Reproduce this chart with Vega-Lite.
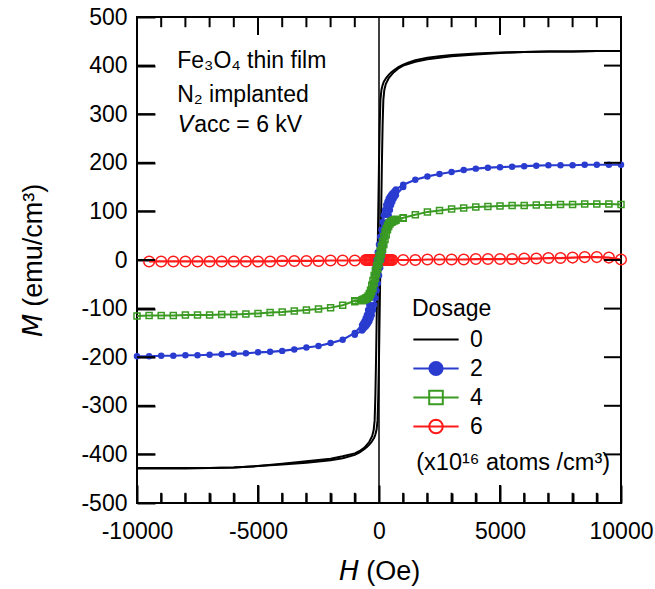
{
"$schema": "https://vega.github.io/schema/vega-lite/v6.json",
"width": 484, "height": 486,
"autosize": {"type": "none"},
"padding": {"left": 137, "top": 17, "right": 34, "bottom": 86},
"background": "white",
"datasets": {
"k0": [
{"b":"a","h":10000,"m":430},{"b":"a","h":9000,"m":430},{"b":"a","h":8000,"m":429},{"b":"a","h":7000,"m":429},{"b":"a","h":6000,"m":428},{"b":"a","h":5000,"m":427},{"b":"a","h":4000,"m":425},{"b":"a","h":3000,"m":422},{"b":"a","h":2500,"m":419},{"b":"a","h":2000,"m":416},{"b":"a","h":1500,"m":411},{"b":"a","h":1200,"m":406},{"b":"a","h":1000,"m":402},{"b":"a","h":800,"m":397},{"b":"a","h":600,"m":390},{"b":"a","h":500,"m":386},{"b":"a","h":400,"m":381},{"b":"a","h":300,"m":375},{"b":"a","h":200,"m":367},{"b":"a","h":150,"m":360},{"b":"a","h":100,"m":350},{"b":"a","h":60,"m":330},{"b":"a","h":30,"m":280},{"b":"a","h":0,"m":200},{"b":"a","h":-30,"m":100},{"b":"a","h":-60,"m":0},{"b":"a","h":-90,"m":-100},{"b":"a","h":-120,"m":-200},{"b":"a","h":-150,"m":-280},{"b":"a","h":-180,"m":-330},{"b":"a","h":-220,"m":-350},{"b":"a","h":-280,"m":-362},{"b":"a","h":-400,"m":-374},{"b":"a","h":-600,"m":-386},{"b":"a","h":-800,"m":-393},{"b":"a","h":-1000,"m":-398},{"b":"a","h":-1500,"m":-404},{"b":"a","h":-2000,"m":-409},{"b":"a","h":-3000,"m":-414},{"b":"a","h":-4000,"m":-419},{"b":"a","h":-5000,"m":-424},{"b":"a","h":-6000,"m":-427},{"b":"a","h":-7000,"m":-428},{"b":"a","h":-8000,"m":-428},{"b":"a","h":-9000,"m":-428},{"b":"a","h":-10000,"m":-428},
{"b":"b","h":-10000,"m":-429},{"b":"b","h":-9000,"m":-429},{"b":"b","h":-8000,"m":-429},{"b":"b","h":-7000,"m":-428},{"b":"b","h":-6000,"m":-427},{"b":"b","h":-5000,"m":-424},{"b":"b","h":-4000,"m":-421},{"b":"b","h":-3000,"m":-417},{"b":"b","h":-2000,"m":-412},{"b":"b","h":-1500,"m":-408},{"b":"b","h":-1000,"m":-401},{"b":"b","h":-800,"m":-396},{"b":"b","h":-600,"m":-389},{"b":"b","h":-500,"m":-385},{"b":"b","h":-400,"m":-380},{"b":"b","h":-300,"m":-374},{"b":"b","h":-200,"m":-366},{"b":"b","h":-150,"m":-359},{"b":"b","h":-100,"m":-349},{"b":"b","h":-60,"m":-330},{"b":"b","h":-30,"m":-280},{"b":"b","h":0,"m":-200},{"b":"b","h":30,"m":-100},{"b":"b","h":60,"m":0},{"b":"b","h":90,"m":100},{"b":"b","h":120,"m":200},{"b":"b","h":150,"m":280},{"b":"b","h":180,"m":330},{"b":"b","h":220,"m":350},{"b":"b","h":280,"m":362},{"b":"b","h":400,"m":374},{"b":"b","h":600,"m":386},{"b":"b","h":800,"m":394},{"b":"b","h":1000,"m":400},{"b":"b","h":1500,"m":408},{"b":"b","h":2000,"m":413},{"b":"b","h":3000,"m":419},{"b":"b","h":4000,"m":423},{"b":"b","h":5000,"m":426},{"b":"b","h":6000,"m":428},{"b":"b","h":7000,"m":429},{"b":"b","h":8000,"m":429},{"b":"b","h":9000,"m":430},{"b":"b","h":10000,"m":430}
],
"k2": [
{"b":"a","h":10000,"m":196},{"b":"a","h":9500,"m":196},{"b":"a","h":9000,"m":196},{"b":"a","h":8500,"m":196},{"b":"a","h":8000,"m":195},{"b":"a","h":7500,"m":195},{"b":"a","h":7000,"m":195},{"b":"a","h":6500,"m":194},{"b":"a","h":6000,"m":193},{"b":"a","h":5500,"m":192},{"b":"a","h":5000,"m":191},{"b":"a","h":4500,"m":190},{"b":"a","h":4000,"m":188},{"b":"a","h":3500,"m":185},{"b":"a","h":3000,"m":181},{"b":"a","h":2500,"m":177},{"b":"a","h":2000,"m":172},{"b":"a","h":1500,"m":165},{"b":"a","h":1000,"m":155},
{"b":"a","h":700,"m":145},{"b":"a","h":650,"m":142},{"b":"a","h":600,"m":139},{"b":"a","h":550,"m":137},{"b":"a","h":500,"m":134},{"b":"a","h":450,"m":130},{"b":"a","h":400,"m":126},{"b":"a","h":350,"m":120},{"b":"a","h":300,"m":113},{"b":"a","h":250,"m":103},{"b":"a","h":200,"m":92},{"b":"a","h":150,"m":78},{"b":"a","h":100,"m":63},{"b":"a","h":50,"m":48},{"b":"a","h":0,"m":32},{"b":"a","h":-50,"m":16},{"b":"a","h":-100,"m":0},{"b":"a","h":-150,"m":-16},{"b":"a","h":-200,"m":-32},{"b":"a","h":-250,"m":-48},{"b":"a","h":-300,"m":-63},{"b":"a","h":-350,"m":-78},{"b":"a","h":-400,"m":-92},{"b":"a","h":-450,"m":-103},{"b":"a","h":-500,"m":-113},{"b":"a","h":-550,"m":-120},{"b":"a","h":-600,"m":-126},{"b":"a","h":-650,"m":-130},{"b":"a","h":-700,"m":-134},
{"b":"a","h":-1000,"m":-150},{"b":"a","h":-1500,"m":-164},{"b":"a","h":-2000,"m":-171},{"b":"a","h":-2500,"m":-177},{"b":"a","h":-3000,"m":-180},{"b":"a","h":-3500,"m":-184},{"b":"a","h":-4000,"m":-187},{"b":"a","h":-4500,"m":-189},{"b":"a","h":-5000,"m":-190},{"b":"a","h":-5500,"m":-192},{"b":"a","h":-6000,"m":-193},{"b":"a","h":-6500,"m":-194},{"b":"a","h":-7000,"m":-195},{"b":"a","h":-7500,"m":-196},{"b":"a","h":-8000,"m":-196},{"b":"a","h":-8500,"m":-197},{"b":"a","h":-9000,"m":-197},{"b":"a","h":-9500,"m":-198},{"b":"a","h":-10000,"m":-198},
{"b":"b","h":-1000,"m":-154},{"b":"b","h":-700,"m":-145},{"b":"b","h":-650,"m":-142},{"b":"b","h":-600,"m":-139},{"b":"b","h":-550,"m":-137},{"b":"b","h":-500,"m":-134},{"b":"b","h":-450,"m":-130},{"b":"b","h":-400,"m":-126},{"b":"b","h":-350,"m":-120},{"b":"b","h":-300,"m":-113},{"b":"b","h":-250,"m":-103},{"b":"b","h":-200,"m":-92},{"b":"b","h":-150,"m":-78},{"b":"b","h":-100,"m":-63},{"b":"b","h":-50,"m":-48},{"b":"b","h":0,"m":-32},{"b":"b","h":50,"m":-16},{"b":"b","h":100,"m":0},{"b":"b","h":150,"m":16},{"b":"b","h":200,"m":32},{"b":"b","h":250,"m":48},{"b":"b","h":300,"m":63},{"b":"b","h":350,"m":78},{"b":"b","h":400,"m":92},{"b":"b","h":450,"m":103},{"b":"b","h":500,"m":113},{"b":"b","h":550,"m":120},{"b":"b","h":600,"m":126},{"b":"b","h":650,"m":130},{"b":"b","h":700,"m":134},{"b":"b","h":1000,"m":150}
],
"k4": [
{"b":"a","h":10000,"m":114},{"b":"a","h":9500,"m":115},{"b":"a","h":9000,"m":115},{"b":"a","h":8500,"m":115},{"b":"a","h":8000,"m":114},{"b":"a","h":7500,"m":114},{"b":"a","h":7000,"m":113},{"b":"a","h":6500,"m":113},{"b":"a","h":6000,"m":112},{"b":"a","h":5500,"m":112},{"b":"a","h":5000,"m":111},{"b":"a","h":4500,"m":110},{"b":"a","h":4000,"m":109},{"b":"a","h":3500,"m":107},{"b":"a","h":3000,"m":105},{"b":"a","h":2500,"m":102},{"b":"a","h":2000,"m":99},{"b":"a","h":1500,"m":93},{"b":"a","h":1000,"m":87},
{"b":"a","h":700,"m":84},{"b":"a","h":650,"m":83},{"b":"a","h":600,"m":82},{"b":"a","h":550,"m":80},{"b":"a","h":500,"m":79},{"b":"a","h":450,"m":77},{"b":"a","h":400,"m":75},{"b":"a","h":350,"m":71},{"b":"a","h":300,"m":65},{"b":"a","h":250,"m":58},{"b":"a","h":200,"m":48},{"b":"a","h":150,"m":38},{"b":"a","h":100,"m":28},{"b":"a","h":50,"m":18},{"b":"a","h":0,"m":8},{"b":"a","h":-50,"m":-2},{"b":"a","h":-100,"m":-12},{"b":"a","h":-150,"m":-22},{"b":"a","h":-200,"m":-32},{"b":"a","h":-250,"m":-42},{"b":"a","h":-300,"m":-52},{"b":"a","h":-350,"m":-62},{"b":"a","h":-400,"m":-69},{"b":"a","h":-450,"m":-74},{"b":"a","h":-500,"m":-77},{"b":"a","h":-550,"m":-78},{"b":"a","h":-600,"m":-80},{"b":"a","h":-650,"m":-81},{"b":"a","h":-700,"m":-82},
{"b":"a","h":-1000,"m":-84},{"b":"a","h":-1500,"m":-93},{"b":"a","h":-2000,"m":-98},{"b":"a","h":-2500,"m":-101},{"b":"a","h":-3000,"m":-103},{"b":"a","h":-3500,"m":-105},{"b":"a","h":-4000,"m":-107},{"b":"a","h":-4500,"m":-108},{"b":"a","h":-5000,"m":-110},{"b":"a","h":-5500,"m":-111},{"b":"a","h":-6000,"m":-112},{"b":"a","h":-6500,"m":-112},{"b":"a","h":-7000,"m":-113},{"b":"a","h":-7500,"m":-113},{"b":"a","h":-8000,"m":-113},{"b":"a","h":-8500,"m":-114},{"b":"a","h":-9000,"m":-114},{"b":"a","h":-9500,"m":-114},{"b":"a","h":-10000,"m":-115},
{"b":"b","h":-1000,"m":-86},{"b":"b","h":-700,"m":-84},{"b":"b","h":-650,"m":-83},{"b":"b","h":-600,"m":-82},{"b":"b","h":-550,"m":-80},{"b":"b","h":-500,"m":-79},{"b":"b","h":-450,"m":-77},{"b":"b","h":-400,"m":-75},{"b":"b","h":-350,"m":-71},{"b":"b","h":-300,"m":-65},{"b":"b","h":-250,"m":-58},{"b":"b","h":-200,"m":-48},{"b":"b","h":-150,"m":-38},{"b":"b","h":-100,"m":-28},{"b":"b","h":-50,"m":-18},{"b":"b","h":0,"m":-8},{"b":"b","h":50,"m":2},{"b":"b","h":100,"m":12},{"b":"b","h":150,"m":22},{"b":"b","h":200,"m":32},{"b":"b","h":250,"m":42},{"b":"b","h":300,"m":52},{"b":"b","h":350,"m":62},{"b":"b","h":400,"m":69},{"b":"b","h":450,"m":74},{"b":"b","h":500,"m":77},{"b":"b","h":550,"m":78},{"b":"b","h":600,"m":80},{"b":"b","h":650,"m":81},{"b":"b","h":700,"m":82},{"b":"b","h":1000,"m":86}
],
"k6": [
{"b":"a","h":10000,"m":1},{"b":"a","h":9500,"m":5},{"b":"a","h":9000,"m":6},{"b":"a","h":8500,"m":6},{"b":"a","h":8000,"m":5},{"b":"a","h":7500,"m":4},{"b":"a","h":7000,"m":4},{"b":"a","h":6500,"m":3},{"b":"a","h":6000,"m":3},{"b":"a","h":5500,"m":2},{"b":"a","h":5000,"m":2},{"b":"a","h":4500,"m":2},{"b":"a","h":4000,"m":2},{"b":"a","h":3500,"m":1},{"b":"a","h":3000,"m":1},{"b":"a","h":2500,"m":1},{"b":"a","h":2000,"m":1},{"b":"a","h":1500,"m":0},{"b":"a","h":1000,"m":0},{"b":"a","h":550,"m":0},{"b":"a","h":500,"m":0},{"b":"a","h":400,"m":0},{"b":"a","h":300,"m":0},{"b":"a","h":200,"m":0},{"b":"a","h":100,"m":0},{"b":"a","h":0,"m":0},{"b":"a","h":-100,"m":0},{"b":"a","h":-200,"m":0},{"b":"a","h":-300,"m":0},{"b":"a","h":-400,"m":0},{"b":"a","h":-500,"m":0},{"b":"a","h":-550,"m":0},{"b":"a","h":-1000,"m":-1},{"b":"a","h":-1500,"m":-1},{"b":"a","h":-2000,"m":-1},{"b":"a","h":-2500,"m":-2},{"b":"a","h":-3000,"m":-2},{"b":"a","h":-3500,"m":-2},{"b":"a","h":-4000,"m":-2},{"b":"a","h":-4500,"m":-3},{"b":"a","h":-5000,"m":-3},{"b":"a","h":-5500,"m":-3},{"b":"a","h":-6000,"m":-3},{"b":"a","h":-6500,"m":-3},{"b":"a","h":-7000,"m":-3},{"b":"a","h":-7500,"m":-3},{"b":"a","h":-8000,"m":-3},{"b":"a","h":-8500,"m":-3},{"b":"a","h":-9000,"m":-3},{"b":"a","h":-9500,"m":-3},
{"b":"b","h":-450,"m":0},{"b":"b","h":-350,"m":0},{"b":"b","h":-250,"m":0},{"b":"b","h":-150,"m":0},{"b":"b","h":-50,"m":0},{"b":"b","h":50,"m":0},{"b":"b","h":150,"m":0},{"b":"b","h":250,"m":0},{"b":"b","h":350,"m":0},{"b":"b","h":450,"m":0}
],
"xmajor": [{"t": -5000}, {"t": 5000}],
"xminor": [{"t":-9000},{"t":-8000},{"t":-7000},{"t":-6000},{"t":-4000},{"t":-3000},{"t":-2000},{"t":-1000},{"t":1000},{"t":2000},{"t":3000},{"t":4000},{"t":6000},{"t":7000},{"t":8000},{"t":9000}],
"yticks": [{"t":-400},{"t":-300},{"t":-200},{"t":-100},{"t":0},{"t":100},{"t":200},{"t":300},{"t":400}]
},
"layer": [
{"data": {"values": [{}]}, "mark": {"type": "rule", "color": "black", "strokeWidth": 1.5},
 "encoding": {"x": {"datum": 0, "type": "quantitative", "axis": null}}},
{"data": {"name": "k0"}, "mark": {"type": "line", "color": "black", "strokeWidth": 2},
 "encoding": {
  "x": {"field": "h", "type": "quantitative", "scale": {"domain": [-10000, 10000], "nice": false, "zero": false},
   "axis": {"orient": "bottom", "values": [-10000,-9000,-8000,-7000,-6000,-5000,-4000,-3000,-2000,-1000,0,1000,2000,3000,4000,5000,6000,7000,8000,9000,10000],
    "ticks": true, "tickColor": "black", "tickWidth": 2, "domain": false, "grid": false,
    "tickSize": {"condition": {"test": "datum.value % 5000 == 0", "value": -18}, "value": -10},
    "labelExpr": "datum.value % 5000 == 0 ? '' + datum.value : ''", "labelPadding": 35,
    "title": "𝘏  (Oe)", "titleX": 242, "titleY": 68, "titleBaseline": "middle", "titleAlign": "center"}},
  "y": {"field": "m", "type": "quantitative", "scale": {"domain": [-500, 500], "nice": false, "zero": false},
   "axis": {"orient": "left", "values": [-500,-400,-300,-200,-100,0,100,200,300,400,500],
    "ticks": true, "tickColor": "black", "tickWidth": 2, "tickSize": -18, "domain": false, "grid": false,
    "labelExpr": "'' + datum.value", "labelPadding": 28,
    "title": "𝘔  (emu/cm³)", "titleX": -104, "titleY": 243, "titleBaseline": "middle", "titleAlign": "center", "titleAngle": -90}},
  "detail": {"field": "b"}}},
{"data": {"name": "k6"}, "mark": {"type": "line", "color": "#ff1a1a", "strokeWidth": 2.2},
 "encoding": {"x": {"field": "h", "type": "quantitative", "axis": null}, "y": {"field": "m", "type": "quantitative", "axis": null}, "detail": {"field": "b"}}},
{"data": {"name": "k6"}, "mark": {"type": "point", "shape": "circle", "size": 113, "filled": false, "color": "#ff1a1a", "strokeWidth": 1.5, "opacity": 1},
 "encoding": {"x": {"field": "h", "type": "quantitative", "axis": null}, "y": {"field": "m", "type": "quantitative", "axis": null}}},
{"data": {"name": "k2"}, "mark": {"type": "line", "color": "#2a3ccf", "strokeWidth": 2.2},
 "encoding": {"x": {"field": "h", "type": "quantitative", "axis": null}, "y": {"field": "m", "type": "quantitative", "axis": null}, "detail": {"field": "b"}}},
{"data": {"name": "k2"}, "mark": {"type": "point", "shape": "circle", "size": 42, "filled": true, "color": "#2a3ccf", "opacity": 1},
 "encoding": {"x": {"field": "h", "type": "quantitative", "axis": null}, "y": {"field": "m", "type": "quantitative", "axis": null}}},
{"data": {"name": "k4"}, "mark": {"type": "line", "color": "#3a9a22", "strokeWidth": 2},
 "encoding": {"x": {"field": "h", "type": "quantitative", "axis": null}, "y": {"field": "m", "type": "quantitative", "axis": null}, "detail": {"field": "b"}}},
{"data": {"name": "k4"}, "mark": {"type": "point", "shape": "square", "size": 36, "filled": false, "color": "#3a9a22", "strokeWidth": 1.5, "opacity": 1},
 "encoding": {"x": {"field": "h", "type": "quantitative", "axis": null}, "y": {"field": "m", "type": "quantitative", "axis": null}}},
{"data": {"values": [{}]}, "mark": {"type": "text", "align": "left", "baseline": "alphabetic", "fontSize": 23, "font": "Liberation Sans", "color": "black"},
 "encoding": {"x": {"datum": -8340, "type": "quantitative", "axis": null}, "y": {"datum": 396, "type": "quantitative", "axis": null}, "text": {"value": "Fe₃O₄ thin film"}}},
{"data": {"values": [{}]}, "mark": {"type": "text", "align": "left", "baseline": "alphabetic", "fontSize": 23, "font": "Liberation Sans", "color": "black"},
 "encoding": {"x": {"datum": -8340, "type": "quantitative", "axis": null}, "y": {"datum": 326, "type": "quantitative", "axis": null}, "text": {"value": "N₂ implanted"}}},
{"data": {"values": [{}]}, "mark": {"type": "text", "align": "left", "baseline": "alphabetic", "fontSize": 23, "font": "Liberation Sans", "color": "black"},
 "encoding": {"x": {"datum": -8300, "type": "quantitative", "axis": null}, "y": {"datum": 263, "type": "quantitative", "axis": null}, "text": {"value": "𝘝acc = 6 kV"}}},
{"data": {"values": [{}]}, "mark": {"type": "text", "align": "left", "baseline": "alphabetic", "fontSize": 23.5, "font": "Liberation Sans", "color": "black"},
 "encoding": {"x": {"datum": 1540, "type": "quantitative", "axis": null}, "y": {"datum": -433, "type": "quantitative", "axis": null}, "text": {"value": "(x10¹⁶ atoms /cm³)"}}},
{"data": {"values": [{"d": "0"}, {"d": "2"}, {"d": "4"}, {"d": "6"}]},
 "mark": {"type": "point", "opacity": 0, "strokeWidth": 2},
 "encoding": {
  "stroke": {"field": "d", "type": "nominal", "scale": {"domain": ["0","2","4","6"], "range": ["black", "#2a3ccf", "#3a9a22", "#ff1a1a"]},
   "legend": {"title": "Dosage"}},
  "fill": {"field": "d", "type": "nominal", "scale": {"domain": ["0","2","4","6"], "range": ["transparent", "#2a3ccf", "transparent", "transparent"]},
   "legend": {"title": "Dosage"}},
  "shape": {"field": "d", "type": "nominal", "scale": {"domain": ["0","2","4","6"], "range": [
    "M-1,0L1,0",
    "M-1,0L1,0M0.29,0L0.268,0.111L0.205,0.205L0.111,0.268L0,0.29L-0.111,0.268L-0.205,0.205L-0.268,0.111L-0.29,0L-0.268,-0.111L-0.205,-0.205L-0.111,-0.268L0,-0.29L0.111,-0.268L0.205,-0.205L0.268,-0.111Z",
    "M-1,0L1,0M-0.3,-0.3L0.3,-0.3L0.3,0.3L-0.3,0.3Z",
    "M-1,0L1,0M0.3,0L0.277,0.115L0.212,0.212L0.115,0.277L0,0.3L-0.115,0.277L-0.212,0.212L-0.277,0.115L-0.3,0L-0.277,-0.115L-0.212,-0.212L-0.115,-0.277L0,-0.3L0.115,-0.277L0.212,-0.212L0.277,-0.115Z"]},
   "legend": {"title": "Dosage"}}}},
{"data": {"name": "xmajor"}, "mark": {"type": "rule", "color": "black", "strokeWidth": 2},
 "encoding": {"x": {"field": "t", "type": "quantitative", "axis": null}, "y": {"datum": -500, "type": "quantitative", "axis": null}, "y2": {"datum": -463}}},
{"data": {"name": "xmajor"}, "mark": {"type": "rule", "color": "black", "strokeWidth": 2},
 "encoding": {"x": {"field": "t", "type": "quantitative", "axis": null}, "y": {"datum": 500, "type": "quantitative", "axis": null}, "y2": {"datum": 463}}},
{"data": {"name": "xminor"}, "mark": {"type": "rule", "color": "black", "strokeWidth": 2},
 "encoding": {"x": {"field": "t", "type": "quantitative", "axis": null}, "y": {"datum": -500, "type": "quantitative", "axis": null}, "y2": {"datum": -479}}},
{"data": {"name": "xminor"}, "mark": {"type": "rule", "color": "black", "strokeWidth": 2},
 "encoding": {"x": {"field": "t", "type": "quantitative", "axis": null}, "y": {"datum": 500, "type": "quantitative", "axis": null}, "y2": {"datum": 479}}},
{"data": {"name": "yticks"}, "mark": {"type": "rule", "color": "black", "strokeWidth": 2},
 "encoding": {"y": {"field": "t", "type": "quantitative", "axis": null}, "x": {"datum": -10000, "type": "quantitative", "axis": null}, "x2": {"datum": -9256}}},
{"data": {"name": "yticks"}, "mark": {"type": "rule", "color": "black", "strokeWidth": 2},
 "encoding": {"y": {"field": "t", "type": "quantitative", "axis": null}, "x": {"datum": 10000, "type": "quantitative", "axis": null}, "x2": {"datum": 9297}}}
],
"resolve": {"axis": {"x": "independent", "y": "independent"}},
"config": {
 "font": "Liberation Sans",
 "view": {"stroke": "black", "strokeWidth": 2},
 "axis": {"grid": false, "domain": false, "labelColor": "black", "labelFont": "Liberation Sans", "labelFontSize": 23,
  "titleFont": "Liberation Sans", "titleFontSize": 27, "titleFontWeight": "normal", "titleColor": "black", "labelOverlap": false, "labelFlush": false, "labelBound": false},
 "legend": {"orient": "none", "legendX": 275, "legendY": 281, "titleFontSize": 23, "titleFontWeight": "normal", "titleColor": "black", "titleFont": "Liberation Sans",
  "labelFontSize": 23, "labelColor": "black", "labelFont": "Liberation Sans", "symbolSize": 2052, "symbolStrokeWidth": 2, "clipHeight": 29, "labelOffset": 10,
  "rowPadding": 0, "padding": 0, "titlePadding": 4, "symbolOpacity": 1}
}
}
